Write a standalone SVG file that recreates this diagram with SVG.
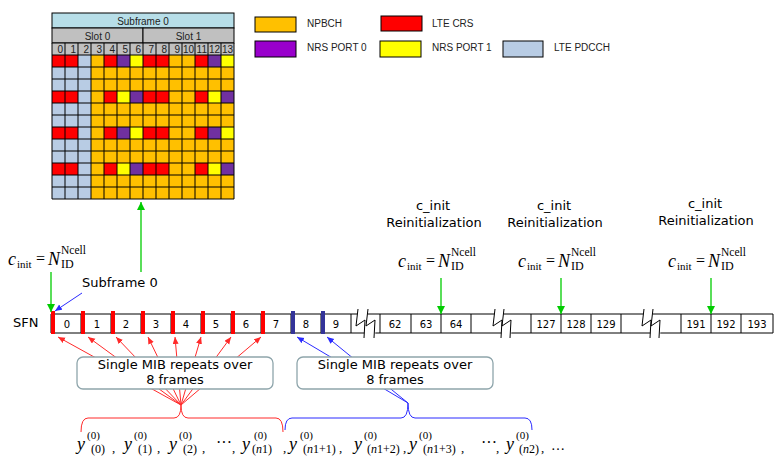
<svg xmlns="http://www.w3.org/2000/svg" width="784" height="463" viewBox="0 0 784 463">
<defs>
<style>
.v13{font-family:"DejaVu Sans",Verdana,sans-serif;font-size:13px;fill:#000}
.num{font-family:"DejaVu Sans",Verdana,sans-serif;font-size:10px;fill:#000;text-anchor:middle}
.gl{font-family:"Liberation Sans",Arial,sans-serif;font-size:10px;fill:#222}
.ser{font-family:"Liberation Serif","Times New Roman",serif;fill:#000}
.it{font-style:italic}
.O{fill:#FFC000}.R{fill:#FF0000}.B{fill:#B8CCE4}.P{fill:#7030A0}.Y{fill:#FFFF00}
.lg{stroke:#000;stroke-width:1}
.gline{stroke:#000;stroke-width:1;fill:none}
.green{stroke:#00CC00;stroke-width:1.3;fill:none}
.red{stroke:#FF2A2A;stroke-width:1;fill:none}
.blue{stroke:#2B2BFF;stroke-width:1;fill:none}
.mib{fill:#fff;stroke:#8EA5AB;stroke-width:1.3}
.brk{fill:#fff;stroke:none}
.zz{fill:none;stroke:#000;stroke-width:1}
.sup{font-size:11px}
.sub{font-size:12px}
.yy{font-size:18px;font-style:italic}
.fc{font-size:18px;font-style:italic}
.fi{font-size:11px}
.fe{font-size:16px}
.fn{font-size:11.5px}
.fd{font-size:12px}
</style>
<marker id="ag" markerWidth="10" markerHeight="10" refX="8" refY="4" orient="auto" markerUnits="userSpaceOnUse"><path d="M0,0 L8,4 L0,8 z" fill="#00CC00"/></marker>
<marker id="ar" markerWidth="10" markerHeight="10" refX="7" refY="3" orient="auto" markerUnits="userSpaceOnUse"><path d="M0,0 L7,3 L0,6 z" fill="#FF2A2A"/></marker>
<marker id="ab" markerWidth="10" markerHeight="10" refX="7" refY="3" orient="auto" markerUnits="userSpaceOnUse"><path d="M0,0 L7,3 L0,6 z" fill="#2B2BFF"/></marker>
</defs>
<rect width="784" height="463" fill="#fff"/>

<g id="grid">
<rect x="52" y="13" width="182" height="15" fill="#B7DEE8" class="lg"/>
<text x="143" y="25" class="gl" text-anchor="middle">Subframe 0</text>
<rect x="52" y="28" width="91" height="15" fill="#C0C0C0" class="lg"/>
<rect x="143" y="28" width="91" height="15" fill="#C0C0C0" class="lg"/>
<text x="97.5" y="40" class="gl" text-anchor="middle">Slot 0</text>
<text x="188.5" y="40" class="gl" text-anchor="middle">Slot 1</text>
<rect x="52" y="43" width="182" height="12" fill="#C0C0C0"/>
<g class="gl" text-anchor="end">
<text x="63" y="53">0</text><text x="76" y="53">1</text><text x="89" y="53">2</text><text x="102" y="53">3</text><text x="115" y="53">4</text><text x="128" y="53">5</text><text x="141" y="53">6</text><text x="154" y="53">7</text><text x="167" y="53">8</text><text x="180" y="53">9</text><text x="194" y="53">10</text><text x="207" y="53">11</text><text x="220" y="53">12</text><text x="233" y="53">13</text>
</g>
<rect x="52" y="55" width="39" height="144" class="B"/>
<rect x="91" y="55" width="143" height="144" class="O"/>
<g>
<rect x="52" y="55" width="26" height="12" class="R"/><rect x="104" y="55" width="13" height="12" class="R"/><rect x="117" y="55" width="13" height="12" class="P"/><rect x="130" y="55" width="13" height="12" class="Y"/><rect x="143" y="55" width="26" height="12" class="R"/><rect x="195" y="55" width="13" height="12" class="R"/><rect x="208" y="55" width="13" height="12" class="P"/><rect x="221" y="55" width="13" height="12" class="Y"/>
<rect x="52" y="91" width="26" height="12" class="R"/><rect x="104" y="91" width="13" height="12" class="R"/><rect x="117" y="91" width="13" height="12" class="Y"/><rect x="130" y="91" width="13" height="12" class="P"/><rect x="143" y="91" width="26" height="12" class="R"/><rect x="195" y="91" width="13" height="12" class="R"/><rect x="208" y="91" width="13" height="12" class="Y"/><rect x="221" y="91" width="13" height="12" class="P"/>
<rect x="52" y="127" width="26" height="12" class="R"/><rect x="104" y="127" width="13" height="12" class="R"/><rect x="117" y="127" width="13" height="12" class="P"/><rect x="130" y="127" width="13" height="12" class="Y"/><rect x="143" y="127" width="26" height="12" class="R"/><rect x="195" y="127" width="13" height="12" class="R"/><rect x="208" y="127" width="13" height="12" class="P"/><rect x="221" y="127" width="13" height="12" class="Y"/>
<rect x="52" y="163" width="26" height="12" class="R"/><rect x="104" y="163" width="13" height="12" class="R"/><rect x="117" y="163" width="13" height="12" class="Y"/><rect x="130" y="163" width="13" height="12" class="P"/><rect x="143" y="163" width="26" height="12" class="R"/><rect x="195" y="163" width="13" height="12" class="R"/><rect x="208" y="163" width="13" height="12" class="Y"/><rect x="221" y="163" width="13" height="12" class="P"/>
</g>
<path class="gline" d="M52,43V199M65,43V199M78,43V199M91,43V199M104,43V199M117,43V199M130,43V199M143,43V199M156,43V199M169,43V199M182,43V199M195,43V199M208,43V199M221,43V199M234,43V199
M52,43H234M52,55H234M52,67H234M52,79H234M52,91H234M52,103H234M52,115H234M52,127H234M52,139H234M52,151H234M52,163H234M52,175H234M52,187H234M52,199H234"/>
</g>

<g id="legend">
<rect x="255" y="17" width="41" height="15" class="O lg"/><text x="307" y="27" class="gl">NPBCH</text>
<rect x="381" y="16" width="41" height="15" class="R lg"/><text x="432" y="27" class="gl">LTE CRS</text>
<rect x="255" y="41" width="41" height="16" fill="#9900CC" class="lg"/><text x="307" y="51" class="gl">NRS PORT 0</text>
<rect x="380" y="41" width="41" height="16" class="Y lg"/><text x="432" y="51" class="gl">NRS PORT 1</text>
<rect x="503" y="41" width="40" height="16" class="B lg"/><text x="554" y="51" class="gl">LTE PDCCH</text>
</g>

<g id="labels">
<text x="433" y="210" class="v13" text-anchor="middle">c_init</text>
<text x="434" y="227" class="v13" text-anchor="middle">Reinitialization</text>
<text x="554" y="210" class="v13" text-anchor="middle">c_init</text>
<text x="555" y="227" class="v13" text-anchor="middle">Reinitialization</text>
<text x="705" y="208" class="v13" text-anchor="middle">c_init</text>
<text x="706" y="225" class="v13" text-anchor="middle">Reinitialization</text>
<text x="82" y="287" class="v13">Subframe 0</text>
<text x="13" y="327" class="v13">SFN</text>
</g>

<g id="formulas" class="ser">
<g>
<text x="8" y="265" class="fc">c</text><text x="17" y="268" class="fi">init</text><text x="36" y="264" class="fe">=</text><text x="48" y="265" class="fc">N</text><text x="61" y="254" class="fn">Ncell</text><text x="61" y="268" class="fd">ID</text>
</g>
<g>
<text x="398" y="267" class="fc">c</text><text x="407" y="270" class="fi">init</text><text x="426" y="266" class="fe">=</text><text x="438" y="267" class="fc">N</text><text x="451" y="256" class="fn">Ncell</text><text x="451" y="270" class="fd">ID</text>
</g>
<g>
<text x="518" y="267" class="fc">c</text><text x="527" y="270" class="fi">init</text><text x="546" y="266" class="fe">=</text><text x="558" y="267" class="fc">N</text><text x="571" y="256" class="fn">Ncell</text><text x="571" y="270" class="fd">ID</text>
</g>
<g>
<text x="668" y="267" class="fc">c</text><text x="677" y="270" class="fi">init</text><text x="696" y="266" class="fe">=</text><text x="708" y="267" class="fc">N</text><text x="721" y="256" class="fn">Ncell</text><text x="721" y="270" class="fd">ID</text>
</g>
</g>

<g id="sfn">
<path class="gline" d="M51,314H773M51,333H773M51,314V333M81,314V333M111,314V333M141,314V333M171,314V333M201,314V333M231,314V333M261,314V333M291,314V333M321,314V333M351,314V333M380,314V333M411,314V333M441,314V333M471,314V333M531,314V333M561,314V333M591,314V333M621,314V333M681,314V333M711,314V333M741,314V333M773,314V333"/>
<polygon class="brk" points="358,309 356,326 365,320 364,338 375,338 376,320 367,326 368,309"/>
<path class="zz" d="M358,309 L356,326 L365,320 L364,338 M368,309 L366,326 L375,320 L374,338"/>
<polygon class="brk" points="495,309 493,326 502,320 501,338 511,338 512,320 503,326 504,309"/>
<path class="zz" d="M495,309 L493,326 L502,320 L501,338 M504,309 L502,326 L511,320 L510,338"/>
<polygon class="brk" points="644,309 642,326 651,320 650,338 660,338 661,320 652,326 653,309"/>
<path class="zz" d="M644,309 L642,326 L651,320 L650,338 M653,309 L651,326 L660,320 L659,338"/>
<g class="R">
<rect x="51" y="311" width="4" height="23"/><rect x="81" y="311" width="4" height="23"/><rect x="111" y="311" width="4" height="23"/><rect x="141" y="311" width="4" height="23"/><rect x="171" y="311" width="4" height="23"/><rect x="201" y="311" width="4" height="23"/><rect x="231" y="311" width="4" height="23"/><rect x="261" y="311" width="4" height="23"/>
</g>
<g fill="#333399">
<rect x="291" y="311" width="4" height="23"/><rect x="321" y="311" width="4" height="23"/>
</g>
<g class="num">
<text x="67" y="328">0</text><text x="97" y="328">1</text><text x="126" y="328">2</text><text x="156" y="328">3</text><text x="186" y="328">4</text><text x="216" y="328">5</text><text x="246" y="328">6</text><text x="276" y="328">7</text><text x="306" y="328">8</text><text x="336" y="328">9</text>
<text x="395" y="328">62</text><text x="426" y="328">63</text><text x="456" y="328">64</text>
<text x="546" y="328">127</text><text x="576" y="328">128</text><text x="606" y="328">129</text>
<text x="696" y="328">191</text><text x="726" y="328">192</text><text x="757" y="328">193</text>
</g>
</g>

<g id="connectors">
<line x1="141" y1="272" x2="141" y2="202" class="green" marker-end="url(#ag)"/>
<line x1="51" y1="272" x2="51" y2="312" class="green" marker-end="url(#ag)"/>
<line x1="441" y1="278" x2="441" y2="314" class="green" marker-end="url(#ag)"/>
<line x1="561" y1="278" x2="561" y2="314" class="green" marker-end="url(#ag)"/>
<line x1="711" y1="278" x2="711" y2="314" class="green" marker-end="url(#ag)"/>
<line x1="82" y1="293" x2="55" y2="311" class="blue" marker-end="url(#ab)"/>
<g class="red" marker-end="url(#ar)">
<line x1="181" y1="405" x2="58" y2="337"/><line x1="181" y1="405" x2="88" y2="337"/><line x1="181" y1="405" x2="116" y2="337"/><line x1="181" y1="405" x2="148" y2="337"/><line x1="181" y1="405" x2="175" y2="337"/><line x1="181" y1="405" x2="201" y2="337"/><line x1="181" y1="405" x2="231" y2="337"/><line x1="181" y1="405" x2="261" y2="337"/>
</g>
<g class="blue" marker-end="url(#ab)">
<line x1="408" y1="403" x2="297" y2="337"/><line x1="408" y1="403" x2="327" y2="337"/>
</g>
<path class="red" stroke-width="1.3" d="M81,432 Q81,418 88,418 L174,418 Q181,418 181,405 Q181,418 188,418 L276,418 Q283,418 283,432"/>
<path class="blue" stroke-width="1.3" d="M285,430 Q285,418 292,418 L401,418 Q408,418 408,403 Q408,418 415,418 L525,418 Q532,418 532,430"/>
</g>

<g id="mib1">
<rect x="77" y="357" width="196" height="32" rx="6" class="mib"/>
<text x="175" y="369" class="v13" text-anchor="middle">Single MIB repeats over</text>
<text x="175" y="384" class="v13" text-anchor="middle">8 frames</text>
</g>
<g id="mib2">
<rect x="297" y="357" width="196" height="32" rx="6" class="mib"/>
<text x="395" y="369" class="v13" text-anchor="middle">Single MIB repeats over</text>
<text x="395" y="384" class="v13" text-anchor="middle">8 frames</text>
</g>

<g id="sequence" class="ser">
<text x="77" y="450" class="yy">y</text><text x="87" y="439" class="sup">(0)</text><text x="91" y="453" class="sub">(0)</text><text x="112" y="452" font-size="13">,</text>
<text x="124" y="450" class="yy">y</text><text x="134" y="439" class="sup">(0)</text><text x="138" y="453" class="sub">(1)</text><text x="157" y="452" font-size="13">,</text>
<text x="169" y="450" class="yy">y</text><text x="179" y="439" class="sup">(0)</text><text x="183" y="453" class="sub">(2)</text><text x="202" y="452" font-size="13">,</text>
<text x="216" y="448" font-size="16">···</text><text x="232" y="452" font-size="13">,</text>
<text x="242" y="450" class="yy">y</text><text x="254" y="439" class="sup">(0)</text><text x="252" y="453" class="sub">(<tspan class="it">n</tspan>1)</text><text x="283" y="452" font-size="13">,</text>
<text x="289" y="450" class="yy">y</text><text x="300" y="439" class="sup">(0)</text><text x="303" y="453" class="sub">(<tspan class="it">n</tspan>1+1)</text><text x="339" y="452" font-size="13">,</text>
<text x="354" y="450" class="yy">y</text><text x="364" y="439" class="sup">(0)</text><text x="367" y="453" class="sub">(<tspan class="it">n</tspan>1+2)</text><text x="403" y="452" font-size="13">,</text>
<text x="409" y="450" class="yy">y</text><text x="419" y="439" class="sup">(0)</text><text x="423" y="453" class="sub">(<tspan class="it">n</tspan>1+3)</text><text x="461" y="452" font-size="13">,</text>
<text x="481" y="448" font-size="16">···</text><text x="496" y="452" font-size="13">,</text>
<text x="506" y="450" class="yy">y</text><text x="516" y="439" class="sup">(0)</text><text x="519" y="453" class="sub">(<tspan class="it">n</tspan>2)</text><text x="541" y="452" font-size="13">,</text>
<text x="551" y="450" font-size="14">…</text>
</g>
</svg>
